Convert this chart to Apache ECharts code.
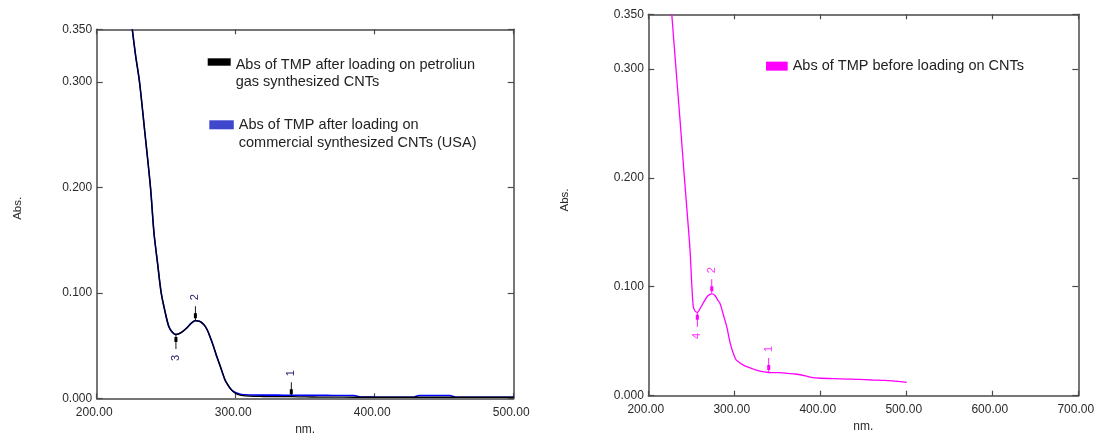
<!DOCTYPE html>
<html>
<head>
<meta charset="utf-8">
<script src="https://cdn.jsdelivr.net/npm/echarts@6/dist/echarts.min.js"></script>
<style>
  html, body { margin: 0; padding: 0; background: #fff; }
  #chart { width: 1099px; height: 434px; }
</style>
</head>
<body>
<div id="chart"></div>
<script>
// ---- Left panel: TMP after loading on CNTs (wavelength in nm, absorbance) ----
const loadedNm = [225.6, 228, 230.8, 234.5, 238.7, 241.2, 243.8, 246.4, 249.2, 251.9,
  254.5, 257, 261, 265, 268, 271, 274, 277, 279.3, 281.5, 284.1, 286.3, 289, 292.3,
  294, 296, 298.6, 301, 304, 310, 320, 330, 340, 350, 360, 370, 385, 390, 400, 428,
  432, 454, 458, 500];
const petroleumAbs = [0.350, 0.325, 0.300, 0.254, 0.200, 0.157, 0.128, 0.100, 0.082, 0.068,
  0.0625, 0.0605, 0.0625, 0.067, 0.0712, 0.0736, 0.0730, 0.0700, 0.0655, 0.0585, 0.0490, 0.0400, 0.0300, 0.0175,
  0.0135, 0.0095, 0.0060, 0.0040, 0.0028, 0.0020, 0.0017, 0.0015, 0.0015, 0.0013, 0.0012, 0.0011, 0.0010, 0.0010, 0.0010, 0.0010,
  0.0010, 0.0010, 0.0010, 0.0010];
const commercialAbs = [0.350, 0.325, 0.300, 0.254, 0.200, 0.157, 0.128, 0.100, 0.082, 0.068,
  0.0625, 0.0605, 0.0625, 0.067, 0.0712, 0.0736, 0.0730, 0.0700, 0.0655, 0.0585, 0.0490, 0.0400, 0.0300, 0.0175,
  0.0135, 0.0095, 0.0062, 0.0048, 0.0036, 0.0031, 0.0030, 0.0030, 0.0029, 0.0028, 0.0028, 0.0027, 0.0026, 0.0012, 0.0011, 0.0010,
  0.0027, 0.0027, 0.0011, 0.0010];

// ---- Right panel: free TMP ----
const freeNm = [227.3, 232.2, 237, 241.5, 245.5, 248.5, 250.5, 252.3, 254.5, 257,
  261, 265, 269, 273.8, 277.5, 280.5, 283.4, 287, 291.2, 295, 298.8, 302, 304.7,
  309.7, 314.4, 322, 330, 340, 345, 353, 362, 371, 384, 391, 400, 415, 432, 445,
  460, 475, 485, 493, 500.5];
const freeAbs = [0.350, 0.300, 0.252, 0.205, 0.165, 0.134, 0.103, 0.082, 0.0775, 0.0765,
  0.081, 0.0865, 0.0915, 0.0935, 0.092, 0.088, 0.0847, 0.075, 0.0633, 0.049, 0.0389, 0.033, 0.0312,
  0.0285, 0.0266, 0.0245, 0.0225, 0.0213, 0.0212, 0.0211, 0.0205, 0.0199, 0.018, 0.0166, 0.016, 0.0157, 0.0153, 0.0150,
  0.0144, 0.0140, 0.0135, 0.0130, 0.0122];

// ---- Axis ticks ----
const leftXTicks = [200, 300, 400, 500];
const rightXTicks = [200, 300, 400, 500, 600, 700];
const absTicks = [0, 0.1, 0.2, 0.3, 0.35];

// ---- Legend entries (one string per printed line) ----
const petroleumLines = ['Abs of TMP after loading on petroliun', 'gas synthesized CNTs'];
const commercialLines = ['Abs of TMP after loading on', 'commercial synthesized CNTs (USA)'];
const freeLines = ['Abs of TMP before loading on CNTs'];

// ---- Peak pick markers ----
const leftPeakLabels = ['1', '2', '3'];
const leftPeakNm = [340, 271, 257];
const leftPeakSide = ['down', 'down', 'up'];
const rightPeakLabels = ['1', '2', '4'];
const rightPeakNm = [340, 273.8, 257];
const rightPeakSide = ['down', 'down', 'up'];

const FONT = "'Liberation Sans', Arial, sans-serif";
const AXIS_COLOR = '#4a4a4a';
const ARROW_DOWN = 'path://M1.05,0H1.95V14H1.05Z M0,7H3V12H0Z';
const ARROW_UP = 'path://M1.05,0H1.95V14H1.05Z M0,2H3V7H0Z';

const petroleumName = petroleumLines.join(' ');
const commercialName = commercialLines.join(' ');
const freeName = freeLines.join(' ');

// Multi-line legend text: a spacer line on top keeps the swatch level with the first line
function richLegend(lines) {
  return '{s| }\n' + lines.map(l => '{t|' + l + '}').join('\n');
}
const legendText = {};
legendText[petroleumName] = richLegend(petroleumLines);
legendText[commercialName] = richLegend(commercialLines);
legendText[freeName] = freeLines.join('\n');

function pairs(xs, ys) { return xs.map((x, i) => [x, ys[i]]); }
function valueAt(xs, ys, x) { return ys[xs.indexOf(x)]; }

function peakMarks(xs, ys, labels, nms, sides, color, labelColor) {
  return nms.map((nm, i) => {
    const down = sides[i] === 'down';
    return {
      coord: [nm, valueAt(xs, ys, nm)],
      symbol: down ? ARROW_DOWN : ARROW_UP,
      symbolSize: [3, 14],
      symbolOffset: [0, down ? -7.5 : 7.5],
      itemStyle: { color: color },
      label: {
        show: true, formatter: labels[i], position: [1.5, down ? -9 : 23],
        rotate: 90, align: 'center', verticalAlign: 'middle',
        fontSize: 11, fontFamily: FONT, color: labelColor
      }
    };
  });
}

function xAxes(grid, ticks) {
  const base = {
    gridIndex: grid, type: 'value',
    min: ticks[0], max: ticks[ticks.length - 1], interval: ticks[1] - ticks[0],
    splitLine: { show: false },
    axisLine: { show: true, onZero: false, lineStyle: { color: AXIS_COLOR, width: 1.5 } },
    axisTick: { show: true, inside: true, length: 5, lineStyle: { color: AXIS_COLOR, width: 1.2 } }
  };
  return [
    Object.assign({}, base, {
      position: 'bottom',
      axisLabel: { show: true, margin: 8, fontSize: 12, fontFamily: FONT, color: '#2a2a2a',
        padding: [0, 5, 0, 0], formatter: v => v.toFixed(2) },
      name: 'nm.', nameLocation: 'middle', nameGap: 25, nameMoveOverlap: false,
      nameTextStyle: { fontSize: 12, fontFamily: FONT, color: '#2a2a2a' }
    }),
    Object.assign({}, base, { position: 'top', axisLabel: { show: false } })
  ];
}

function yAxes(grid, ticks, gap, shift) {
  const base = {
    gridIndex: grid, type: 'value',
    min: ticks[0], max: ticks[ticks.length - 1], interval: ticks[1] - ticks[0],
    splitLine: { show: false },
    axisLine: { show: true, onZero: false, lineStyle: { color: AXIS_COLOR, width: 1.5 } },
    axisTick: { show: true, inside: true, length: 6, lineStyle: { color: AXIS_COLOR, width: 1.2 } }
  };
  return [
    Object.assign({}, base, {
      position: 'left',
      axisLabel: { show: true, margin: 4.5, fontSize: 12, fontFamily: FONT, color: '#2a2a2a',
        formatter: v => v.toFixed(3) },
      name: 'Abs.', nameLocation: 'middle', nameRotate: 90, nameGap: gap, nameMoveOverlap: false,
      nameTextStyle: { fontSize: 11.5, fontFamily: FONT, color: '#2a2a2a', padding: [0, 0, 0, shift] }
    }),
    Object.assign({}, base, { position: 'right', axisLabel: { show: false } })
  ];
}

function legendBox(name, color, left, top, w, h, spacer) {
  const text = { fontSize: 14.5, fontFamily: FONT, color: '#222' };
  return {
    show: true, orient: 'vertical', left: left, top: top, padding: 0, itemGap: 0,
    icon: 'rect', itemWidth: w, itemHeight: h, selectedMode: false,
    data: [{ name: name, itemStyle: { color: color } }],
    formatter: n => legendText[n],
    textStyle: Object.assign({ lineHeight: 17.5 }, text, {
      rich: {
        s: Object.assign({}, text, { lineHeight: spacer }),
        t: Object.assign({}, text, { lineHeight: 17.5 })
      }
    })
  };
}

const xs = xAxes(0, leftXTicks).concat(xAxes(1, rightXTicks));
const ys = yAxes(0, absTicks, 73, 11).concat(yAxes(1, absTicks, 77, 10));

const option = {
  animation: false,
  backgroundColor: '#fff',
  textStyle: { fontFamily: FONT },
  grid: [
    { left: 96.7, top: 29.3, width: 417, height: 369, containLabel: false, outerBoundsMode: 'none' },
    { left: 648.3, top: 14.3, width: 430, height: 381.4, containLabel: false, outerBoundsMode: 'none' }
  ],
  legend: [
    legendBox(petroleumName, '#000000', 207.7, 33.25, 23, 7.4, 22.5),
    legendBox(commercialName, '#3f48cc', 209.3, 97.95, 24.5, 9, 18.7),
    legendBox(freeName, '#ff00ff', 766, 57.4, 21.7, 9, 17.5)
  ],
  xAxis: xs,
  yAxis: ys,
  series: [
    {
      name: commercialName, type: 'line', xAxisIndex: 0, yAxisIndex: 0,
      data: pairs(loadedNm, commercialAbs), smooth: 0.3, showSymbol: false,
      color: '#0000ff', lineStyle: { color: '#0000ff', width: 1.6 }
    },
    {
      name: petroleumName, type: 'line', xAxisIndex: 0, yAxisIndex: 0,
      data: pairs(loadedNm, petroleumAbs), smooth: 0.3, showSymbol: false,
      color: '#000000', lineStyle: { color: '#000000', width: 1.3 },
      markPoint: {
        silent: true,
        data: peakMarks(loadedNm, petroleumAbs, leftPeakLabels, leftPeakNm, leftPeakSide, '#000000', '#22226e')
      }
    },
    {
      name: freeName, type: 'line', xAxisIndex: 2, yAxisIndex: 2,
      data: pairs(freeNm, freeAbs), smooth: 0.3, showSymbol: false,
      color: '#ff00ff', lineStyle: { color: '#ff00ff', width: 1.3 },
      markPoint: {
        silent: true,
        data: peakMarks(freeNm, freeAbs, rightPeakLabels, rightPeakNm, rightPeakSide, '#ff00ff', '#ff33ff')
      }
    }
  ]
};

const chart = echarts.init(document.getElementById('chart'));
chart.setOption(option);
</script>
</body>
</html>
